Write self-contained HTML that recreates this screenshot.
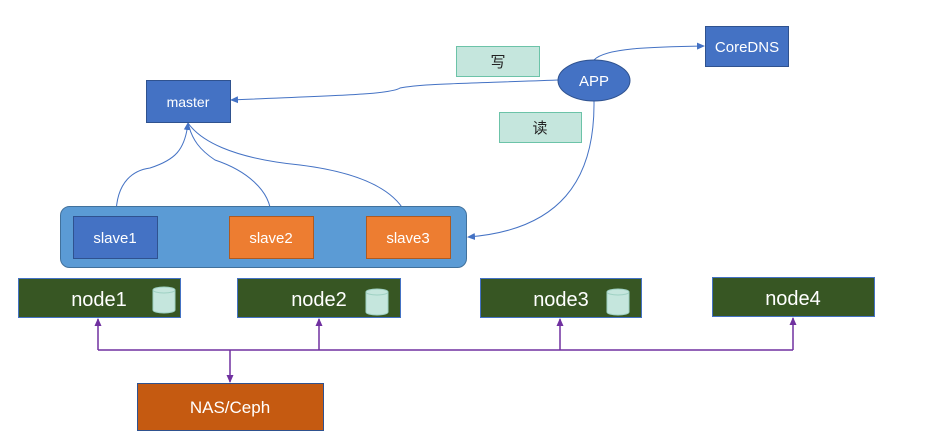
<!DOCTYPE html>
<html><head><meta charset="utf-8"><style>
html,body{margin:0;padding:0;background:#fff;width:931px;height:442px;overflow:hidden}
text{font-family:"Liberation Sans","Noto Sans CJK SC",sans-serif}
</style></head><body>
<svg width="931" height="442" viewBox="0 0 931 442" xmlns="http://www.w3.org/2000/svg">
<defs>
<marker id="ab" markerWidth="8" markerHeight="8" refX="7" refY="4" orient="auto" markerUnits="userSpaceOnUse"><path d="M0,0.5 L8,4 L0,7.5z" fill="#4472c4"/></marker>
<marker id="ap" markerWidth="8" markerHeight="8" refX="7" refY="4" orient="auto" markerUnits="userSpaceOnUse"><path d="M0,0.5 L8,4 L0,7.5z" fill="#7030a0"/></marker>
</defs>
<!-- labels -->
<rect x="456.5" y="46.5" width="83" height="30" fill="#c5e6dd" stroke="#6cc3a8"/>
<text x="498" y="67" font-size="15" text-anchor="middle" fill="#222">写</text>
<rect x="499.5" y="112.5" width="82" height="30" fill="#c5e6dd" stroke="#6cc3a8"/>
<text x="540" y="133" font-size="15" text-anchor="middle" fill="#222">读</text>
<!-- connectors -->
<path d="M558,80 C450,84 420,84 400,88 C390,95 320,96 231,100" fill="none" stroke="#4472c4" stroke-width="1" marker-end="url(#ab)"/>
<path d="M594,60 C605,48 650,47 704,46" fill="none" stroke="#4472c4" stroke-width="1" marker-end="url(#ab)"/>
<path d="M594,101 C595,180 560,230 468,237" fill="none" stroke="#4472c4" stroke-width="1" marker-end="url(#ab)"/>
<path d="M116,216 C116,180 135,170 150,168 C175,160 185,150 188,123" fill="none" stroke="#4472c4" stroke-width="1" marker-end="url(#ab)"/>
<path d="M271,216 C271,190 245,170 215,160 C200,150 192,140 188,123" fill="none" stroke="#4472c4" stroke-width="1"/>
<path d="M407,216 C400,200 380,175 300,165 C230,158 200,140 188,123" fill="none" stroke="#4472c4" stroke-width="1"/>
<!-- master -->
<rect x="146.5" y="80.5" width="84" height="42" fill="#4472c4" stroke="#2f528f"/>
<text x="188" y="107" font-size="14" text-anchor="middle" fill="#fff">master</text>
<!-- APP -->
<ellipse cx="594" cy="80.5" rx="36" ry="20.5" fill="#4472c4" stroke="#2f528f"/>
<text x="594" y="86" font-size="15" text-anchor="middle" fill="#fff">APP</text>
<!-- CoreDNS -->
<rect x="705.5" y="26.5" width="83" height="40" fill="#4472c4" stroke="#2f528f"/>
<text x="747" y="52" font-size="15" text-anchor="middle" fill="#fff">CoreDNS</text>
<!-- slave container -->
<rect x="60.5" y="206.5" width="406" height="61" rx="9" fill="#5b9bd5" stroke="#41719c"/>
<rect x="73.5" y="216.5" width="84" height="42" fill="#4472c4" stroke="#2f528f"/>
<text x="115" y="243" font-size="15" text-anchor="middle" fill="#fff">slave1</text>
<rect x="229.5" y="216.5" width="84" height="42" fill="#ed7d31" stroke="#ae5a21"/>
<text x="271" y="243" font-size="15" text-anchor="middle" fill="#fff">slave2</text>
<rect x="366.5" y="216.5" width="84" height="42" fill="#ed7d31" stroke="#ae5a21"/>
<text x="408" y="243" font-size="15" text-anchor="middle" fill="#fff">slave3</text>
<!-- nodes -->
<g font-size="20" fill="#fff">
<rect x="18.5" y="278.5" width="162" height="39" fill="#375623" stroke="#4472c4"/>
<text x="99" y="306" text-anchor="middle">node1</text>
<rect x="237.5" y="278.5" width="163" height="39" fill="#375623" stroke="#4472c4"/>
<text x="319" y="306" text-anchor="middle">node2</text>
<rect x="480.5" y="278.5" width="161" height="39" fill="#375623" stroke="#4472c4"/>
<text x="561" y="306" text-anchor="middle">node3</text>
<rect x="712.5" y="277.5" width="162" height="39" fill="#375623" stroke="#4472c4"/>
<text x="793" y="305" text-anchor="middle">node4</text>
</g>
<!-- cylinders -->
<g fill="#c5e6dd" stroke="#9fd1c3">
<path d="M153,290 v20 a11,3 0 0 0 22,0 v-20z"/><ellipse cx="164" cy="290" rx="11" ry="3"/>
<path d="M366,292 v20 a11,3 0 0 0 22,0 v-20z"/><ellipse cx="377" cy="292" rx="11" ry="3"/>
<path d="M607,292 v20 a11,3 0 0 0 22,0 v-20z"/><ellipse cx="618" cy="292" rx="11" ry="3"/>
</g>
<!-- purple network -->
<g stroke="#7030a0" stroke-width="1.5" fill="none">
<path d="M98,350 H793"/>
<path d="M98,350 V319" marker-end="url(#ap)"/>
<path d="M319,350 V319" marker-end="url(#ap)"/>
<path d="M560,350 V319" marker-end="url(#ap)"/>
<path d="M793,350 V318" marker-end="url(#ap)"/>
<path d="M230,350 V382" marker-end="url(#ap)"/>
</g>
<!-- NAS -->
<rect x="137.5" y="383.5" width="186" height="47" fill="#c55a11" stroke="#2f528f"/>
<text x="230" y="413" font-size="17" text-anchor="middle" fill="#fff">NAS/Ceph</text>
</svg>
</body></html>
